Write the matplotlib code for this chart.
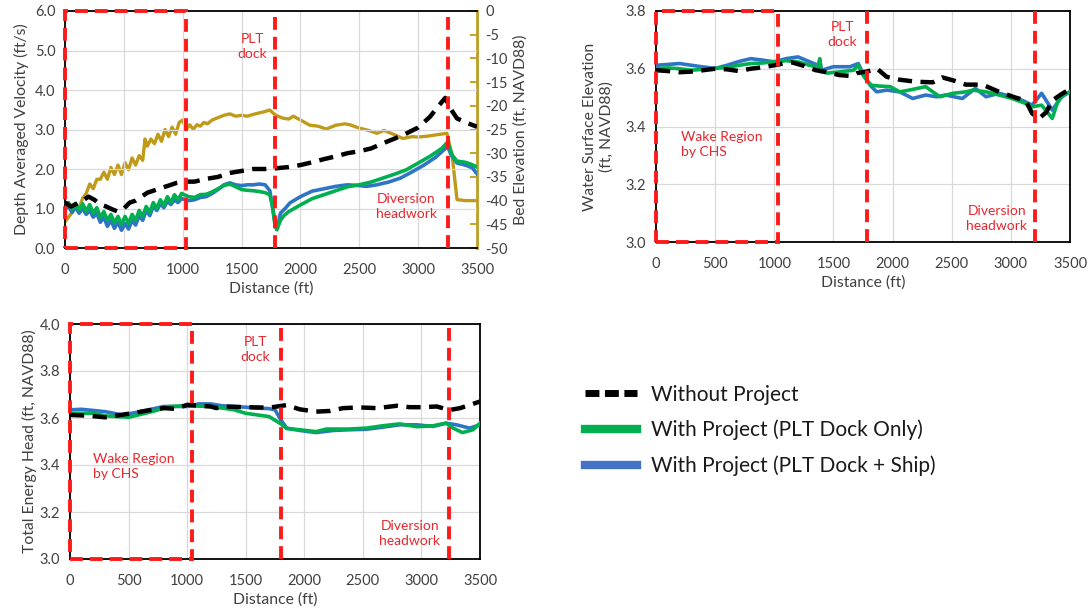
import matplotlib
matplotlib.use("Agg")
import matplotlib.pyplot as plt
from matplotlib.lines import Line2D
from matplotlib.patches import Rectangle

plt.rcParams['font.family'] = ['Lato', 'DejaVu Sans']
plt.rcParams['axes.unicode_minus'] = False

# ---------------- DATA ----------------
# Top-left: depth averaged velocity (ft/s) and bed elevation (ft)
vel_wo_x = [0, 50, 100, 150, 200, 250, 300, 350, 400, 450, 500, 550, 600, 650, 700, 750, 800, 850, 900, 950,
            1000, 1100, 1200, 1300, 1400, 1500, 1600, 1700, 1800, 1900, 2000, 2100, 2200, 2300, 2400, 2500,
            2600, 2700, 2800, 2900, 3000, 3100, 3180, 3230, 3270, 3330, 3420, 3500]
vel_wo_y = [1.15, 1.05, 1.12, 1.2, 1.3, 1.22, 1.1, 1.05, 0.98, 0.92, 1.0, 1.15, 1.2, 1.3, 1.4, 1.45, 1.5, 1.55, 1.6, 1.65,
            1.68, 1.68, 1.75, 1.8, 1.9, 1.95, 2.0, 2.0, 2.02, 2.05, 2.1, 2.17, 2.25, 2.32, 2.4, 2.45,
            2.52, 2.65, 2.77, 2.9, 3.05, 3.32, 3.62, 3.8, 3.55, 3.28, 3.16, 3.07]

vel_dock_x = [0, 30, 60, 90, 120, 150, 180, 210, 240, 270, 300, 330, 360, 390, 420, 450, 480, 510, 540, 570,
              600, 630, 660, 690, 720, 750, 780, 810, 840, 870, 900, 930, 960, 990, 1050, 1100, 1150, 1200, 1250,
              1300, 1350, 1400, 1450, 1500, 1550, 1600, 1650, 1700, 1740, 1760, 1785, 1800, 1830, 1860, 1900,
              2000, 2100, 2200, 2300, 2400, 2500, 2600, 2700, 2800, 2900, 3000, 3100, 3200, 3250, 3290, 3330,
              3400, 3450, 3500]
vel_dock_y = [1.02, 1.15, 0.98, 1.13, 0.95, 1.12, 0.93, 1.1, 0.88, 1.02, 0.78, 0.92, 0.7, 0.85, 0.64, 0.8, 0.6, 0.8,
              0.62, 0.85, 0.7, 0.95, 0.8, 1.05, 0.9, 1.15, 1.0, 1.22, 1.08, 1.3, 1.15, 1.35, 1.22, 1.38, 1.3, 1.28,
              1.35, 1.36, 1.42, 1.5, 1.58, 1.62, 1.55, 1.48, 1.46, 1.45, 1.43, 1.4, 1.35, 1.1, 0.55, 0.46, 0.7,
              0.82, 0.92, 1.09, 1.25, 1.35, 1.45, 1.55, 1.6, 1.67, 1.77, 1.87, 1.98, 2.15, 2.32, 2.52, 2.68, 2.35,
              2.2, 2.17, 2.12, 2.05]

vel_ship_x = [0, 30, 60, 90, 120, 150, 180, 210, 240, 270, 300, 330, 360, 390, 420, 450, 480, 510, 540, 570,
              600, 630, 660, 690, 720, 750, 780, 810, 840, 870, 900, 930, 960, 990, 1050, 1100, 1150, 1200, 1250,
              1300, 1350, 1400, 1450, 1500, 1550, 1600, 1650, 1700, 1740, 1765, 1790, 1810, 1830, 1870, 1910,
              2000, 2100, 2200, 2300, 2400, 2500, 2560, 2650, 2750, 2850, 2950, 3050, 3150, 3250, 3280, 3330,
              3400, 3460, 3500]
vel_ship_y = [0.98, 1.05, 0.9, 1.03, 0.88, 1.0, 0.85, 0.95, 0.78, 0.88, 0.65, 0.78, 0.55, 0.7, 0.5, 0.65, 0.45, 0.62,
              0.48, 0.7, 0.58, 0.82, 0.7, 0.95, 0.82, 1.05, 0.95, 1.12, 1.02, 1.18, 1.1, 1.22, 1.15, 1.25, 1.2, 1.22,
              1.28, 1.3, 1.38, 1.48, 1.6, 1.65, 1.6, 1.58, 1.6, 1.6, 1.62, 1.6, 1.45, 1.0, 0.55, 0.6, 0.88, 1.0,
              1.14, 1.3, 1.44, 1.5, 1.56, 1.6, 1.58, 1.56, 1.6, 1.67, 1.77, 1.93, 2.1, 2.3, 2.57, 2.36, 2.15, 2.1,
              2.03, 1.88]

bed_x = [0, 30, 60, 90, 120, 150, 180, 210, 240, 270, 300, 330, 360, 390, 420, 450, 480, 510, 540, 570, 600, 630,
         660, 680, 700, 730, 760, 790, 820, 850, 880, 910, 940, 970, 1000, 1030, 1060, 1090, 1120, 1150, 1180,
         1210, 1250, 1300, 1350, 1400, 1450, 1500, 1550, 1600, 1650, 1700, 1740, 1790, 1850, 1900, 1940, 2000,
         2080, 2150, 2220, 2300, 2380, 2420, 2500, 2580, 2650, 2710, 2790, 2870, 2950, 3000, 3080, 3160, 3245,
         3290, 3330, 3400, 3500]
bed_y = [-44.5, -43.5, -42.5, -41.0, -41.5, -39.5, -38.5, -36.5, -37.5, -35.5, -35.5, -34.0, -35.5, -33.0, -34.5,
         -32.5, -34.5, -32.0, -33.5, -31.0, -32.5, -30.5, -31.5, -27.0, -28.5, -27.0, -28.0, -26.0, -27.5, -25.0,
         -26.5, -24.5, -26.0, -23.5, -23.0, -25.0, -24.0, -25.0, -24.0, -24.3, -23.5, -23.8, -23.0, -22.5, -22.0,
         -21.7, -22.2, -22.0, -22.2, -21.8, -21.5, -21.2, -20.9, -22.0, -22.6, -22.8, -22.2, -23.0, -24.1, -24.3,
         -24.9, -24.1, -23.8, -24.0, -24.7, -25.2, -25.8, -25.2, -26.0, -26.9, -26.5, -26.6, -26.4, -26.1, -25.8,
         -30.7, -39.8, -40.0, -40.0]

# Top-right: water surface elevation (ft, NAVD88)
wse_wo_x = [0, 100, 200, 300, 400, 500, 600, 700, 800, 900, 1000, 1100, 1150, 1250, 1350, 1450, 1550, 1650, 1700,
            1780, 1870, 1950, 2060, 2200, 2340, 2420, 2510, 2620, 2760, 2900, 3040, 3125, 3180, 3240, 3300, 3350,
            3420, 3500]
wse_wo_y = [3.595, 3.592, 3.588, 3.59, 3.595, 3.6, 3.598, 3.592, 3.6, 3.605, 3.612, 3.62, 3.622, 3.61, 3.595, 3.588,
            3.578, 3.575, 3.585, 3.59, 3.6, 3.572, 3.562, 3.555, 3.553, 3.57, 3.56, 3.545, 3.545, 3.52, 3.5, 3.49,
            3.445, 3.428, 3.45, 3.49, 3.51, 3.53]

wse_dock_x = [0, 100, 200, 300, 400, 500, 600, 700, 800, 900, 1000, 1100, 1200, 1300, 1370, 1385, 1395, 1450, 1550,
              1670, 1710, 1750, 1780, 1820, 1890, 1980, 2060, 2140, 2280, 2340, 2400, 2510, 2620, 2680, 2790, 2900,
              3010, 3125, 3180, 3260, 3350, 3400, 3450, 3500]
wse_dock_y = [3.6, 3.603, 3.6, 3.595, 3.598, 3.601, 3.605, 3.612, 3.618, 3.62, 3.624, 3.628, 3.624, 3.612, 3.605,
              3.635, 3.59, 3.585, 3.589, 3.595, 3.612, 3.578, 3.561, 3.543, 3.54, 3.538, 3.52, 3.526, 3.538, 3.52,
              3.503, 3.515, 3.52, 3.526, 3.52, 3.509, 3.497, 3.48, 3.468, 3.474, 3.428, 3.49, 3.51, 3.52]

wse_ship_x = [0, 100, 200, 350, 500, 600, 700, 800, 900, 1000, 1100, 1200, 1300, 1370, 1385, 1400, 1500, 1640,
              1710, 1750, 1810, 1865, 1950, 2060, 2170, 2280, 2370, 2450, 2590, 2700, 2790, 2900, 3010, 3100, 3180,
              3260, 3350, 3430, 3500]
wse_ship_y = [3.612, 3.615, 3.618, 3.609, 3.601, 3.612, 3.625, 3.635, 3.63, 3.624, 3.635, 3.641, 3.624, 3.612,
              3.63, 3.595, 3.607, 3.607, 3.618, 3.584, 3.543, 3.52, 3.526, 3.52, 3.497, 3.509, 3.503, 3.509, 3.497,
              3.532, 3.503, 3.515, 3.503, 3.49, 3.474, 3.515, 3.457, 3.503, 3.52]

# Bottom-left: total energy head (ft, NAVD88)
teh_wo_x = [0, 150, 300, 500, 700, 800, 900, 1000, 1100, 1200, 1250, 1300, 1500, 1700, 1850, 1960, 2100, 2220,
            2330, 2470, 2620, 2790, 2900, 3010, 3130, 3240, 3330, 3500]
teh_wo_y = [3.613, 3.61, 3.603, 3.618, 3.635, 3.642, 3.639, 3.656, 3.652, 3.649, 3.642, 3.649, 3.646, 3.644,
            3.655, 3.637, 3.627, 3.63, 3.642, 3.645, 3.642, 3.652, 3.646, 3.646, 3.649, 3.634, 3.642, 3.67]

teh_dock_x = [0, 200, 300, 500, 700, 850, 1000, 1200, 1300, 1400, 1500, 1700, 1800, 1850, 1960, 2100, 2190, 2390,
              2530, 2670, 2815, 2960, 3100, 3210, 3270, 3350, 3440, 3500]
teh_dock_y = [3.62, 3.62, 3.609, 3.603, 3.627, 3.649, 3.652, 3.649, 3.642, 3.635, 3.62, 3.606, 3.575, 3.555,
              3.55, 3.542, 3.553, 3.553, 3.557, 3.567, 3.575, 3.563, 3.567, 3.578, 3.557, 3.538, 3.55, 3.578]

teh_ship_x = [0, 100, 200, 300, 450, 600, 800, 900, 1000, 1100, 1200, 1300, 1400, 1500, 1600, 1700, 1750, 1800,
              1850, 1960, 2100, 2250, 2390, 2530, 2670, 2815, 2960, 3100, 3210, 3300, 3410, 3500]
teh_ship_y = [3.635, 3.637, 3.632, 3.627, 3.613, 3.627, 3.649, 3.649, 3.649, 3.66, 3.66, 3.652, 3.649, 3.646,
              3.642, 3.64, 3.635, 3.592, 3.557, 3.547, 3.538, 3.547, 3.55, 3.552, 3.561, 3.571, 3.571, 3.564,
              3.578, 3.571, 3.557, 3.571]

x_ticks = [0, 500, 1000, 1500, 2000, 2500, 3000, 3500]
legend_labels = ["Without Project", "With Project (PLT Dock Only)", "With Project (PLT Dock + Ship)"]

# ---------------- STYLE ----------------
C_BLACK = "black"
C_GREEN = "#00B050"
C_BLUE = "#2E75C6"
C_GOLD = "#C09B1A"
C_RED = "#FF1A1A"
C_TXT_RED = "#E8262E"
GRID = "#D9D9D9"
TICK_FS = 10.5
LAB_FS = 11.3
ANN_FS = 10
TXT = "#404040"

fig = plt.figure(figsize=(10.91, 6.15), dpi=100)


def style_axes(ax, ylim, yticks, yfmt):
    ax.set_xlim(0, 3500)
    ax.set_ylim(*ylim)
    ax.set_xticks(x_ticks)
    ax.set_yticks(yticks)
    ax.set_yticklabels([yfmt.format(v) for v in yticks])
    ax.grid(True, color=GRID, lw=0.9)
    ax.set_axisbelow(True)
    ax.tick_params(axis='x', labelsize=TICK_FS, length=0, pad=11, colors=TXT)
    ax.tick_params(axis='y', labelsize=TICK_FS, length=0, pad=7, colors=TXT)
    for s in ax.spines.values():
        s.set_color("black")
        s.set_linewidth(1.3)
    ax.set_xlabel("Distance (ft)", fontsize=LAB_FS, color=TXT, labelpad=3)


RED_LW = 2.8
RED_DASH = (3.3, 1.8)


def red_marks(ax, box_right, dock_x, head_x):
    y0, y1 = ax.get_ylim()
    rect = Rectangle((0, y0), box_right, y1 - y0, fill=False, edgecolor=C_RED, lw=RED_LW,
                     linestyle=(0, RED_DASH), clip_on=False, zorder=6)
    ax.add_patch(rect)
    for xv in (dock_x, head_x):
        ax.plot([xv, xv], [y0, y1], color=C_RED, lw=RED_LW, dashes=RED_DASH, zorder=6, clip_on=False)


def series(ax, wx, wy, dx, dy, sx, sy):
    ax.plot(sx, sy, color=C_BLUE, lw=2.6, zorder=3, solid_joinstyle="round")
    ax.plot(dx, dy, color=C_GREEN, lw=2.6, zorder=4, solid_joinstyle="round")
    ax.plot(wx, wy, color=C_BLACK, lw=3.2, dashes=(3.2, 1.9), zorder=5)


# ---- Top-left ----
ax1 = fig.add_axes([65 / 1091, 1 - 248 / 615, 412 / 1091, 237 / 615])
style_axes(ax1, (0, 6), [0, 1, 2, 3, 4, 5, 6], "{:.1f}")
ax1.set_ylabel("Depth Averaged Velocity (ft/s)", fontsize=LAB_FS, color=TXT, labelpad=4)
ax1.spines['right'].set_visible(False)
ax1b = ax1.twinx()
ax1b.set_ylim(-50, 0)
ax1b.set_yticks(list(range(-50, 1, 5)))
ax1b.set_yticklabels([str(v) for v in range(-50, 1, 5)])
ax1b.tick_params(axis='y', direction='in', length=5, width=1.3, color=C_GOLD, labelsize=TICK_FS,
                 labelcolor=TXT, pad=6)
for s in ax1b.spines.values():
    s.set_visible(False)
ax1b.spines['right'].set_visible(True)
ax1b.spines['right'].set_color(C_GOLD)
ax1b.spines['right'].set_linewidth(2)
ax1b.set_ylabel("Bed Elevation (ft, NAVD88)", fontsize=LAB_FS, color=TXT, labelpad=4)
ax1b.plot(bed_x, bed_y, color=C_GOLD, lw=2.4, zorder=2)
ax1.set_zorder(ax1b.get_zorder() + 1)
ax1.patch.set_visible(False)
series(ax1, vel_wo_x, vel_wo_y, vel_dock_x, vel_dock_y, vel_ship_x, vel_ship_y)
red_marks(ax1, 1030, 1785, 3255)
ax1.text(1590, 5.1, "PLT\ndock", color=C_TXT_RED, fontsize=ANN_FS, ha="center", va="center", linespacing=1.3)
ax1.text(2900, 1.05, "Diversion\nheadwork", color=C_TXT_RED, fontsize=ANN_FS, ha="center", va="center",
         linespacing=1.3)

# ---- Top-right ----
ax2 = fig.add_axes([656 / 1091, 1 - 242 / 615, 414 / 1091, 231 / 615])
style_axes(ax2, (3.0, 3.8), [3.0, 3.2, 3.4, 3.6, 3.8], "{:.1f}")
ax2.set_ylabel("Water Surface Elevation\n(ft, NAVD88)", fontsize=LAB_FS, color=TXT, labelpad=9,
               linespacing=1.2)
series(ax2, wse_wo_x, wse_wo_y, wse_dock_x, wse_dock_y, wse_ship_x, wse_ship_y)
red_marks(ax2, 1035, 1780, 3205)
ax2.text(1575, 3.717, "PLT\ndock", color=C_TXT_RED, fontsize=ANN_FS, ha="center", va="center", linespacing=1.3)
ax2.text(210, 3.336, "Wake Region\nby CHS", color=C_TXT_RED, fontsize=ANN_FS, ha="left", va="center",
         linespacing=1.3)
ax2.text(2880, 3.083, "Diversion\nheadwork", color=C_TXT_RED, fontsize=ANN_FS, ha="center", va="center",
         linespacing=1.3)

# ---- Bottom-left ----
ax3 = fig.add_axes([70 / 1091, 1 - 559 / 615, 410 / 1091, 235 / 615])
style_axes(ax3, (3.0, 4.0), [3.0, 3.2, 3.4, 3.6, 3.8, 4.0], "{:.1f}")
ax3.set_ylabel("Total Energy Head (ft, NAVD88)", fontsize=LAB_FS, color=TXT, labelpad=2)
series(ax3, teh_wo_x, teh_wo_y, teh_dock_x, teh_dock_y, teh_ship_x, teh_ship_y)
red_marks(ax3, 1040, 1798, 3232)
ax3.text(1580, 3.89, "PLT\ndock", color=C_TXT_RED, fontsize=ANN_FS, ha="center", va="center", linespacing=1.3)
ax3.text(195, 3.393, "Wake Region\nby CHS", color=C_TXT_RED, fontsize=ANN_FS, ha="left", va="center",
         linespacing=1.3)
ax3.text(2900, 3.11, "Diversion\nheadwork", color=C_TXT_RED, fontsize=ANN_FS, ha="center", va="center",
         linespacing=1.3)

# ---- Legend ----
handles = [
    Line2D([], [], color=C_BLACK, lw=5, dashes=(2.0, 0.8)),
    Line2D([], [], color=C_GREEN, lw=6),
    Line2D([], [], color="#4472C4", lw=6),
]
fig.legend(handles, legend_labels, loc="upper left", bbox_to_anchor=(566 / 1091, 1 - 366 / 615),
           frameon=False, fontsize=15, handlelength=2.5, handletextpad=0.7, labelspacing=0.72,
           labelcolor="#1a1a1a")

fig.savefig("out.png", dpi=100)
